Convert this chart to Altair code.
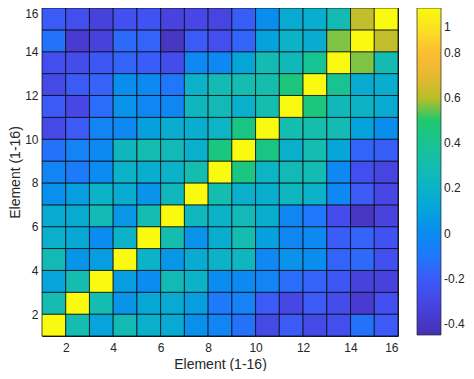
import altair as alt
import pandas as pd

# correlation matrix rows (y = 1..15), columns x = 1..15 (pcolor-style cells on a 1..16 grid)
y1 = [1.00, 0.30, 0.11, 0.28, 0.18, 0.15, 0.02, -0.04, -0.12, -0.29, -0.21, -0.29, -0.26, -0.12, -0.21]
y2 = [0.30, 1.00, 0.30, 0.04, 0.13, 0.15, 0.08, -0.09, -0.05, -0.21, -0.30, -0.21, -0.27, -0.37, -0.26]
y3 = [0.11, 0.30, 1.00, 0.08, 0.00, 0.28, 0.20, 0.00, -0.01, -0.04, -0.14, -0.18, -0.22, -0.33, -0.33]
y4 = [0.28, 0.04, 0.08, 1.00, 0.20, 0.05, 0.16, 0.20, 0.24, -0.02, 0.03, 0.01, -0.17, -0.15, -0.25]
y5 = [0.18, 0.13, 0.00, 0.20, 1.00, 0.30, 0.03, 0.17, 0.30, 0.09, -0.03, -0.01, -0.20, -0.18, -0.24]
y6 = [0.15, 0.15, 0.28, 0.05, 0.30, 1.00, 0.25, 0.20, 0.27, 0.17, -0.03, -0.10, -0.27, -0.41, -0.32]
y7 = [0.02, 0.08, 0.20, 0.16, 0.03, 0.25, 1.00, 0.30, 0.18, 0.17, 0.24, 0.20, -0.02, -0.21, -0.30]
y8 = [-0.04, -0.09, 0.00, 0.20, 0.17, 0.20, 0.30, 1.00, 0.45, 0.22, 0.27, 0.29, -0.02, -0.26, -0.31]
y9 = [-0.12, -0.05, -0.01, 0.24, 0.30, 0.27, 0.18, 0.45, 1.00, 0.44, 0.18, 0.30, 0.12, -0.17, -0.19]
y10 = [-0.29, -0.21, -0.04, -0.02, 0.09, 0.17, 0.17, 0.22, 0.44, 1.00, 0.30, 0.31, 0.29, 0.10, 0.01]
y11 = [-0.21, -0.30, -0.14, 0.03, -0.03, -0.03, 0.24, 0.27, 0.18, 0.30, 1.00, 0.46, 0.26, 0.21, 0.15]
y12 = [-0.29, -0.21, -0.18, 0.01, -0.01, -0.10, 0.20, 0.29, 0.30, 0.31, 0.46, 1.00, 0.40, 0.16, 0.17]
y13 = [-0.26, -0.27, -0.22, -0.17, -0.20, -0.27, -0.02, -0.02, 0.12, 0.29, 0.26, 0.40, 1.00, 0.53, 0.29]
y14 = [-0.12, -0.37, -0.33, -0.15, -0.18, -0.41, -0.21, -0.26, -0.17, 0.10, 0.21, 0.16, 0.53, 1.00, 0.62]
y15 = [-0.21, -0.26, -0.33, -0.25, -0.24, -0.32, -0.30, -0.31, -0.19, 0.01, 0.15, 0.17, 0.29, 0.62, 1.00]

rows = [y1, y2, y3, y4, y5, y6, y7, y8, y9, y10, y11, y12, y13, y14, y15]

tick_values = [2, 4, 6, 8, 10, 12, 14, 16]
legend_values = [-0.4, -0.2, 0, 0.2, 0.4, 0.6, 0.8, 1]

color_stops = [-0.45, -0.35, -0.25, -0.2, -0.1, 0.0, 0.1, 0.2, 0.3, 0.4, 0.5, 0.505, 0.6, 0.7, 0.8, 0.9, 1.0]
color_range = ["#4430b4", "#4a3ed8", "#4250f0", "#3a5cf8", "#1f78fb", "#0a8cf0", "#05a2dc",
               "#0bb2c8", "#15bcb0", "#18c392", "#1ec86e", "#6cc650", "#b8be28", "#e8b830",
               "#fbbd33", "#fbdf22", "#f9fa0f"]

records = []
for yi, row in enumerate(rows, start=1):
    for xi, v in enumerate(row, start=1):
        records.append({"x": xi, "y": yi, "v": v})
df = pd.DataFrame(records)

FONT = "Liberation Sans"
TXT = "#262626"

chart = (
    alt.Chart(df)
    .transform_calculate(xe="datum.x + 1", ye="datum.y + 1")
    .mark_rect(stroke="#000000", strokeWidth=0.7)
    .encode(
        x=alt.X(
            "x:Q",
            scale=alt.Scale(domain=[1, 16], nice=False, zero=False),
            axis=alt.Axis(values=tick_values, title="Element (1-16)", labelPadding=6,
                          titlePadding=4),
        ),
        x2="xe:Q",
        y=alt.Y(
            "y:Q",
            scale=alt.Scale(domain=[1, 16], nice=False, zero=False),
            axis=alt.Axis(values=tick_values, title="Element (1-16)", labelPadding=4,
                          titlePadding=2, labelFlush=True),
        ),
        y2="ye:Q",
        color=alt.Color(
            "v:Q",
            scale=alt.Scale(domain=color_stops, range=color_range, interpolate="rgb"),
            legend=alt.Legend(
                title=None,
                orient="none",
                legendX=375,
                legendY=0,
                direction="vertical",
                gradientLength=327,
                gradientThickness=24,
                gradientStrokeColor=TXT,
                gradientStrokeWidth=0.7,
                values=legend_values,
                labelExpr="datum.value >= 1 ? ['', '1'] : '' + datum.value",
                labelFont=FONT,
                labelFontSize=12,
                labelColor=TXT,
                labelOffset=3,
                labelOverlap=False,
                labelBaseline="middle",
                padding=0,
            ),
        ),
    )
    .properties(
        width=356,
        height=328,
        autosize=alt.AutoSizeParams(type="none"),
        padding={"left": 34, "top": 0, "right": 68, "bottom": 35},
    )
    .configure_view(stroke=TXT, strokeWidth=1)
    .configure_axis(
        grid=False,
        ticks=False,
        domain=False,
        labelFont=FONT,
        labelFontSize=12,
        labelColor=TXT,
        titleFont=FONT,
        titleFontSize=14,
        titleFontWeight="normal",
        titleColor=TXT,
    )
)

chart.save("out.html", embed_options={"renderer": "svg", "actions": False})
